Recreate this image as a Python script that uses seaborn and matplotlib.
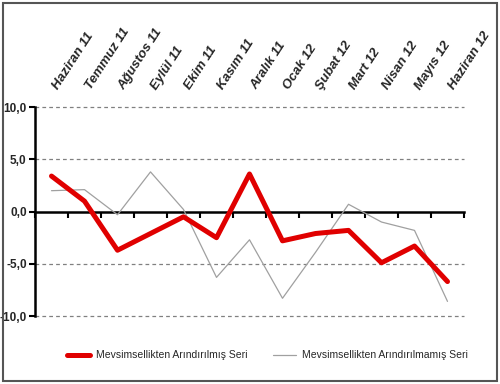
import numpy as np
import pandas as pd
import matplotlib
matplotlib.use("Agg")
import matplotlib.pyplot as plt
from matplotlib.patches import Rectangle
from matplotlib.ticker import FixedLocator
import seaborn as sns

months = ["Haziran 11", "Temmuz 11", "Ağustos 11", "Eylül 11", "Ekim 11", "Kasım 11",
          "Aralık 11", "Ocak 12", "Şubat 12", "Mart 12", "Nisan 12", "Mayıs 12", "Haziran 12"]
adjusted = [3.4, 1.0, -3.7, -2.1, -0.5, -2.5, 3.6, -2.8, -2.1, -1.8, -4.9, -3.3, -6.7]
unadjusted = [2.0, 2.1, -0.3, 3.8, 0.2, -6.3, -2.7, -8.3, -3.9, 0.7, -1.0, -1.8, -8.6]
y_ticks = [-10, -5, 0, 5, 10]
adj_label = "Mevsimsellikten Arındırılmış Seri"
unadj_label = "Mevsimsellikten Arındırılmamış Seri"

sns.set_style("white")
plt.rcParams["font.family"] = ["Liberation Sans", "DejaVu Sans"]

df = pd.DataFrame({"pos": np.arange(len(months)), "adjusted": adjusted, "unadjusted": unadjusted})

fig = plt.figure(figsize=(5.0, 3.84), dpi=100)
ax = fig.add_axes([0.07, 0.177, 0.858, 0.544])

sns.lineplot(data=df, x="pos", y="unadjusted", ax=ax, color="#a0a0a0", linewidth=0.9,
             label=unadj_label, zorder=3)
sns.lineplot(data=df, x="pos", y="adjusted", ax=ax, color="#e00000", linewidth=3.6,
             label=adj_label, zorder=4)

ax.set_xlim(-0.5, len(months) - 0.5)
ax.set_ylim(-10, 10)
ax.set_xlabel("")
ax.set_ylabel("")

# dashed horizontal gridlines
for v in y_ticks:
    if v != 0:
        ax.axhline(v, color="#808080", linestyle=(0, (3, 2.5)), linewidth=0.9, zorder=1, clip_on=False)

# y axis
ax.set_yticks(y_ticks)
ax.set_yticklabels([f"{v:.1f}".replace(".", ",") for v in y_ticks], fontweight="bold", fontsize=8.5)
ax.tick_params(axis="y", direction="out", length=4, width=1.5, color="black", pad=2, left=True)

# x axis at zero with ticks between categories
for s in ["top", "right"]:
    ax.spines[s].set_visible(False)
ax.spines["left"].set_linewidth(1.8)
ax.spines["left"].set_color("black")
ax.spines["bottom"].set_position(("data", 0))
ax.spines["bottom"].set_linewidth(1.8)
ax.spines["bottom"].set_color("black")
ax.spines["bottom"].set_zorder(2)
ax.set_xticks([])
ax.xaxis.set_minor_locator(FixedLocator(np.arange(len(months) + 1) - 0.5))
ax.tick_params(axis="x", which="minor", direction="out", length=4, width=1.5, color="black", bottom=True)

# category labels on top
trans = ax.get_xaxis_transform()
for i, m in enumerate(months):
    ax.text(i + 0.12, 1.09, m, transform=trans, rotation=57, rotation_mode="anchor",
            ha="left", va="center", fontsize=9.5, fontweight="bold", fontstyle="italic")

ax.get_legend().remove()
handles, labels = ax.get_legend_handles_labels()
fig.legend(handles[::-1], labels[::-1], loc="center", bbox_to_anchor=(0.535, 0.075), ncol=2,
           frameon=False, fontsize=7.5, handlelength=2.2, columnspacing=2.5, handletextpad=0.6)

fig.patches.append(Rectangle((0.005, 0.008), 0.989, 0.985, transform=fig.transFigure,
                             fill=False, edgecolor="#555555", linewidth=1.5))

fig.savefig("out.png", dpi=100)
